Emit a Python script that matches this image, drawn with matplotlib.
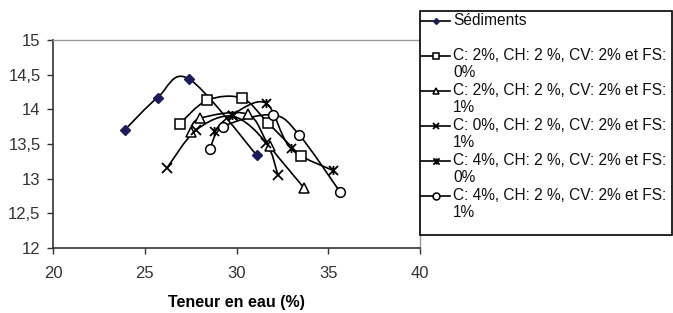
import matplotlib
matplotlib.use("Agg")
import matplotlib.pyplot as plt
from matplotlib.path import Path
from matplotlib.patches import PathPatch, Rectangle
from matplotlib.lines import Line2D
import numpy as np

plt.rcParams['font.family'] = ['Liberation Sans', 'DejaVu Sans']

# ---- data ----
sed_x = [23.9, 25.7, 27.4, 31.1]
sed_y = [13.70, 14.17, 14.44, 13.34]

sq_x = [26.9, 28.4, 30.3, 31.7, 33.5]
sq_y = [13.79, 14.13, 14.16, 13.81, 13.32]

tri_x = [27.5, 28.0, 30.6, 31.8, 33.7]
tri_y = [13.68, 13.87, 13.93, 13.47, 12.86]

x0_x = [26.2, 27.8, 29.8, 31.6, 32.25]
x0_y = [13.15, 13.70, 13.90, 13.52, 13.06]

st_x = [28.8, 29.75, 31.6, 32.95, 35.24]
st_y = [13.69, 13.92, 14.09, 13.44, 13.12]

ci_x = [28.56, 29.28, 31.97, 33.42, 35.64]
ci_y = [13.43, 13.75, 13.92, 13.63, 12.81]

labels = ["Sédiments",
          "C: 2%, CH: 2 %, CV: 2% et FS:\n0%",
          "C: 2%, CH: 2 %, CV: 2% et FS:\n1%",
          "C: 0%, CH: 2 %, CV: 2% et FS:\n1%",
          "C: 4%, CH: 2 %, CV: 2% et FS:\n0%",
          "C: 4%, CH: 2 %, CV: 2% et FS:\n1%"]

xticks = [20, 25, 30, 35, 40]
yticks = [12, 12.5, 13, 13.5, 14, 14.5, 15]
yticklabels = ["12", "12,5", "13", "13,5", "14", "14,5", "15"]
xlabel = "Teneur en eau (%)"

# star marker: X with vertical line
star = Path([(-1, -1), (1, 1), (-1, 1), (1, -1), (0, -1), (0, 1)],
            [Path.MOVETO, Path.LINETO, Path.MOVETO, Path.LINETO, Path.MOVETO, Path.LINETO])

styles = [
    dict(marker='D', ms=5, mfc='#1c1c5a', mec='#1c1c5a'),
    dict(marker='s', ms=6.5, mfc='white', mec='black', mew=1.1),
    dict(marker='^', ms=7, mfc='white', mec='black', mew=1.1),
    dict(marker='x', ms=6.5, mfc='none', mec='black', mew=1.3),
    dict(marker=star, ms=6.5, mfc='none', mec='black', mew=1.3),
    dict(marker='o', ms=7, mfc='white', mec='black', mew=1.1),
]
series = [(sed_x, sed_y), (sq_x, sq_y), (tri_x, tri_y), (x0_x, x0_y), (st_x, st_y), (ci_x, ci_y)]

W, H = 673, 313
fig = plt.figure(figsize=(W / 100, H / 100), dpi=100)
ax = fig.add_axes([53 / W, 1 - 248 / H, (420 - 53) / W, (248 - 40) / H])


def smooth_path(xs, ys):
    P = np.column_stack([xs, ys]).astype(float)
    n = len(P)
    verts = [P[0]]
    codes = [Path.MOVETO]
    for i in range(n - 1):
        p0 = P[i - 1] if i > 0 else P[i]
        p1 = P[i]
        p2 = P[i + 1]
        p3 = P[i + 2] if i + 2 < n else P[i + 1]
        c1 = p1 + (p2 - p0) / 6.0
        c2 = p2 - (p3 - p1) / 6.0
        verts += [c1, c2, p2]
        codes += [Path.CURVE4] * 3
    return Path(verts, codes)


for (xs, ys), st in zip(series, styles):
    ax.add_patch(PathPatch(smooth_path(xs, ys), fill=False, ec='black', lw=1.2, zorder=2))
    ax.plot(xs, ys, ls='none', zorder=3, **st)

ax.set_xlim(20, 40)
ax.set_ylim(12, 15)
ax.set_xticks(xticks)
ax.set_yticks(yticks)
ax.set_yticklabels(yticklabels)
ax.tick_params(direction='out', length=4, width=1, colors='#333333', labelsize=12)
ax.tick_params(axis='x', pad=9)
ax.tick_params(axis='y', pad=5)
for s in ['left', 'bottom']:
    ax.spines[s].set_color('#333333')
    ax.spines[s].set_linewidth(1.2)
for s in ['top', 'right']:
    ax.spines[s].set_color('#999999')
    ax.spines[s].set_linewidth(1)
ax.set_xlabel(xlabel, fontsize=11.5, fontweight='bold', labelpad=10)

# legend drawn manually
lx0, ly0, lx1, ly1 = 420, 11, 672, 235
fig.patches.append(Rectangle((lx0 / W, 1 - ly1 / H), (lx1 - lx0) / W, (ly1 - ly0) / H,
                             transform=fig.transFigure, fill=True, fc='white',
                             ec='black', lw=1.2, zorder=5))
entry_y = [21, 56, 91, 126, 161, 196]
for y, st, lab in zip(entry_y, styles, labels):
    fig.add_artist(Line2D([421 / W, 450 / W], [1 - y / H, 1 - y / H], transform=fig.transFigure,
                          color='black', lw=1.2, zorder=6))
    fig.add_artist(Line2D([435.5 / W], [1 - y / H], transform=fig.transFigure, ls='none', zorder=7,
                          **{**st, 'ms': st['ms'] - 2}))
    fig.text(453 / W, 1 - (y - 8) / H, lab, fontsize=11.2, va='top', ha='left',
             linespacing=1.17, zorder=7, color='#111111')

fig.savefig('out.png', dpi=100)
